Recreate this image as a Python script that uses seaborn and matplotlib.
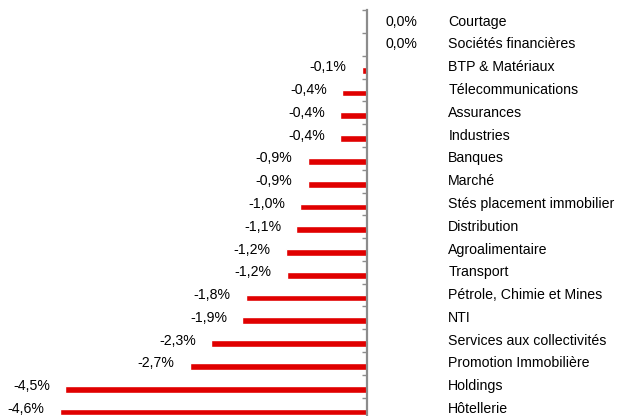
import numpy as np
import matplotlib.pyplot as plt
import seaborn as sns

# Variation sectorielle (%), du haut vers le bas
sectors = [
    'Courtage', 'Sociétés financières', 'BTP & Matériaux', 'Télecommunications',
    'Assurances', 'Industries', 'Banques', 'Marché', 'Stés placement immobilier',
    'Distribution', 'Agroalimentaire', 'Transport', 'Pétrole, Chimie et Mines',
    'NTI', 'Services aux collectivités', 'Promotion Immobilière', 'Holdings',
    'Hôtellerie',
]
variations = [
    0.0, 0.0, -0.08, -0.37, -0.40, -0.40, -0.89, -0.89, -1.00, -1.06,
    -1.22, -1.20, -1.82, -1.87, -2.34, -2.66, -4.53, -4.61,
]

sns.set_theme(style='white')
plt.rcParams['font.family'] = ['Liberation Sans', 'DejaVu Sans']

fig = plt.figure(figsize=(6.19, 4.16), dpi=100)
ax = fig.add_axes([0, -0.0106, 1, 0.9858])

sns.barplot(x=variations, y=sectors, orient='h', color='#E00000',
            saturation=1, width=0.3, ax=ax)

# bars sit a little below the category centre, like in the Excel export
for p in ax.patches:
    p.set_y(p.get_y() + 0.13)

ax.set_xlim(-5.511, 3.784)
ax.set_ylim(len(sectors) - 0.5, -0.5)

# vertical axis at zero, ticks between categories
for side in ['top', 'right', 'bottom']:
    ax.spines[side].set_visible(False)
ax.spines['left'].set_position(('data', 0))
ax.spines['left'].set_color('#8C8C8C')
ax.spines['left'].set_linewidth(1.6)
ax.set_xticks([])
ax.set_yticks(np.arange(len(sectors)))
ax.set_yticklabels([])
ax.tick_params(axis='y', which='major', length=0)
ax.set_yticks(np.arange(-0.5, len(sectors)), minor=True)
ax.tick_params(axis='y', which='minor', length=3.5, width=1,
               color='#8C8C8C', direction='out', left=True)
ax.set_xlabel('')
ax.set_ylabel('')

fs = 10.2
for i, (name, v) in enumerate(zip(sectors, variations)):
    label = f"{v:.1f}%".replace('.', ',')
    if v < 0:
        ax.annotate(label, xy=(v, i), xytext=(-11, 0),
                    textcoords='offset points', ha='right', va='center',
                    fontsize=fs, color='black')
    else:
        ax.annotate(label, xy=(0, i), xytext=(13, 0),
                    textcoords='offset points', ha='left', va='center',
                    fontsize=fs, color='black')
    ax.annotate(name, xy=(0, i), xytext=(58.5, 0),
                textcoords='offset points', ha='left', va='center',
                fontsize=fs, color='black')

plt.savefig('out.png', dpi=100)
